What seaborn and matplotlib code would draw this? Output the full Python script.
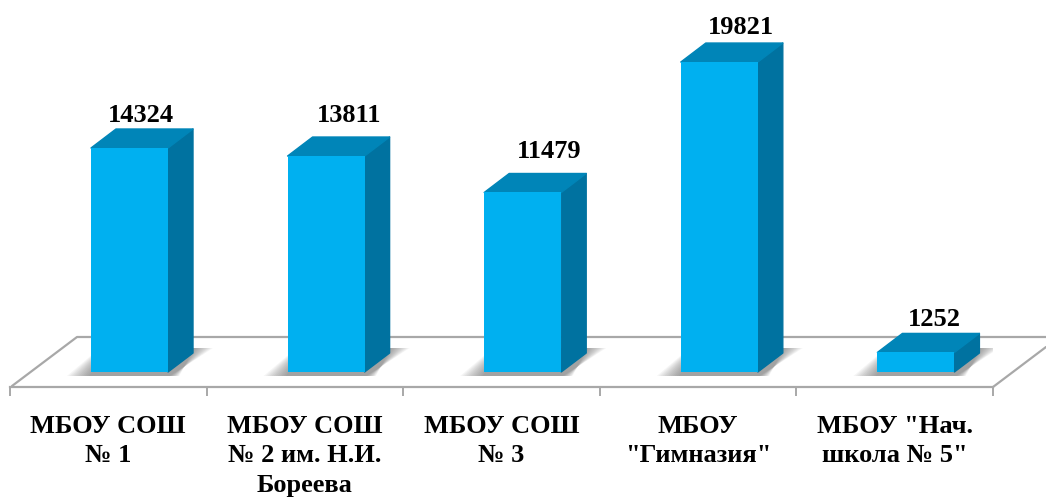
import matplotlib
matplotlib.use("Agg")
import matplotlib.pyplot as plt
import pandas as pd
import seaborn as sns

schools = ['МБОУ СОШ\n№ 1', 'МБОУ СОШ\n№ 2 им. Н.И.\nБореева', 'МБОУ СОШ\n№ 3',
           'МБОУ\n"Гимназия"', 'МБОУ "Нач.\nшкола № 5"']
values = [14324, 13811, 11479, 19821, 1252]

# label offsets from the front top of each bar, in pixels
label_dx = [11, 23, 26, 22, 18]
label_dy = [33, 41, 41, 35, 33]

front_col = "#00b0f0"
top_col = "#0085b8"
side_col = "#0072a0"
floor_col = "#a8a8a8"

W, H = 1046, 500
left_px, right_px, base_px = 10, 993, 372   # base_px = where value 0 sits
axis_px = 387
step = (right_px - left_px) / 5
first_bar = 129.5
yscale = 224 / 14324     # pixels per unit
depth_x, depth_y = 25, 19

sns.set_style("white")
plt.rcParams['font.family'] = ['Liberation Serif', 'DejaVu Sans']

fig = plt.figure(figsize=(W / 100, H / 100), dpi=100)
ax = fig.add_axes([left_px / W, (H - axis_px) / H, (right_px - left_px) / W, axis_px / H])

df = pd.DataFrame({"school": schools, "value": values})
sns.barplot(data=df, x="school", y="value", color=front_col, saturation=1,
            width=77 / step, linewidth=0, ax=ax, zorder=5)

ax.set_xlim((left_px - first_bar) / step, (right_px - first_bar) / step)
ax.set_ylim((base_px - axis_px) / yscale, base_px / yscale)


def px_x(p):
    return (p - first_bar) / step


def px_y(p):
    return (base_px - p) / yscale


# floor of the 3d chart
ax.plot([px_x(12), px_x(77), px_x(1046)], [px_y(386), px_y(337), px_y(337)],
        color=floor_col, lw=1.6, clip_on=False, zorder=1)
ax.plot([px_x(993), px_x(1046)], [px_y(387), px_y(347)],
        color=floor_col, lw=1.6, clip_on=False, zorder=1)

dx = depth_x / step
dy = depth_y / yscale
hw = 77 / step / 2

for i, v in enumerate(values):
    # soft shadow on the floor, layered polygons that shrink towards the bar
    for k in range(12):
        s = k / 12
        xs = [i - hw - (24 - 24 * s) / step, i - hw + (9 + 10 * s) / step,
              i + hw + dx + (20 - 20 * s) / step, i + hw + (2 + 10 * s) / step]
        ys = [px_y(376), px_y(348), px_y(348), px_y(376)]
        ax.fill(xs, ys, color="#444444", alpha=0.05, lw=0, zorder=2)
    # side and top faces
    ax.fill([i + hw, i + hw + dx, i + hw + dx, i + hw], [0, dy, v + dy, v],
            facecolor=side_col, edgecolor=side_col, lw=1, joinstyle="round", zorder=4, clip_on=False)
    ax.fill([i - hw, i - hw + dx, i + hw + dx, i + hw], [v, v + dy, v + dy, v],
            facecolor=top_col, edgecolor=top_col, lw=1, joinstyle="round", zorder=4, clip_on=False)
    ax.annotate(str(v), (i, v), xytext=(label_dx[i], label_dy[i]), textcoords="offset pixels",
                ha="center", va="center", fontsize=19, fontweight="bold", color="black",
                zorder=6, annotation_clip=False)

sns.despine(ax=ax, left=True, top=True, right=True)
ax.patch.set_alpha(0)
ax.spines["bottom"].set_color(floor_col)
ax.spines["bottom"].set_linewidth(1.6)

# labels sit at category centres, the 3d bars are pushed right of them
shift = (first_bar - (left_px + step / 2)) / step
ax.set_xticks([i - shift for i in range(len(schools))])
ax.set_xticklabels(schools, fontsize=19, fontweight="bold", linespacing=1.36, color="black")
ax.set_xticks([i - shift - 0.5 for i in range(len(schools) + 1)], minor=True)
ax.tick_params(axis="x", which="major", length=0, pad=20)
ax.tick_params(axis="x", which="minor", length=6.5, width=1.4, color=floor_col, bottom=True)
ax.set_yticks([])
ax.set_xlabel("")
ax.set_ylabel("")

fig.savefig("out.png", dpi=100)
